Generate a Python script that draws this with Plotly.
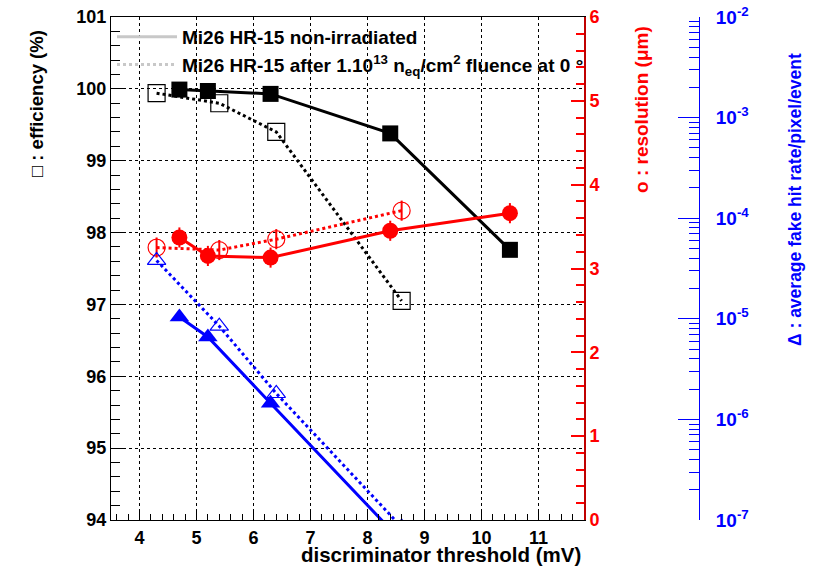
import plotly.graph_objects as go

# ---------------- data ----------------
thr_nonirr = [4.7, 5.2, 6.3, 8.4, 10.5]
eff_nonirr = [99.99, 99.97, 99.93, 99.38, 97.76]
res_nonirr = [3.37, 3.15, 3.13, 3.45, 3.66]
res_nonirr_err = [0.12, 0.12, 0.12, 0.12, 0.12]
thr_fake_nonirr = [4.7, 5.2, 6.3, 8.4]
fake_nonirr = [1.04e-5, 6.6e-6, 1.45e-6, 8.1e-8]

thr_irr = [4.3, 5.4, 6.4, 8.6]
eff_irr = [99.94, 99.80, 99.40, 97.05]
res_irr = [3.25, 3.22, 3.35, 3.69]
res_irr_err = [0.12, 0.12, 0.12, 0.12]
fake_irr = [3.8e-5, 8.45e-6, 1.81e-6, 8.5e-8]

legend_labels = ["Mi26 HR-15 non-irradiated",
                 "Mi26 HR-15 after 1.10<sup>13</sup> n<sub>eq</sub>/cm<sup>2</sup> fluence at 0 \u00b0"]

x_range = [3.5, 11.8]
eff_range = [94, 101]
res_range = [0, 6]
fake_decades = [-7, -6, -5, -4, -3, -2]

FONT = "Liberation Sans"
W, H = 814, 566
ML, MR, MT, MB = 111, 0, 17, 46
PW = W - ML - MR
PH = H - MT - MB

def px(xp):
    return (xp - ML) / PW

def py(yp):
    return (H - MB - yp) / PH

fig = go.Figure()

# legend entries (grey samples)
fig.add_trace(go.Scatter(x=[None], y=[None], mode="lines", name=legend_labels[0],
                         line=dict(color="#c8c8c8", width=3), showlegend=True))
fig.add_trace(go.Scatter(x=[None], y=[None], mode="lines", name=legend_labels[1],
                         line=dict(color="#c8c8c8", width=3, dash="dot"), showlegend=True))

# efficiency
fig.add_trace(go.Scatter(x=thr_nonirr, y=eff_nonirr, mode="lines+markers", showlegend=False,
                         line=dict(color="black", width=3),
                         marker=dict(symbol="square", size=16, color="black")))
fig.add_trace(go.Scatter(x=thr_irr, y=eff_irr, mode="lines+markers", showlegend=False,
                         line=dict(color="black", width=3, dash="dot"),
                         marker=dict(symbol="square-open", size=17, color="black",
                                     line=dict(width=1.2))))

# resolution
fig.add_trace(go.Scatter(x=thr_nonirr, y=res_nonirr, mode="lines+markers", showlegend=False,
                         yaxis="y2",
                         line=dict(color="red", width=3),
                         error_y=dict(type="data", array=res_nonirr_err, color="red",
                                      thickness=2, width=0),
                         marker=dict(symbol="circle", size=16, color="red")))
fig.add_trace(go.Scatter(x=thr_irr, y=res_irr, mode="lines+markers", showlegend=False,
                         yaxis="y2",
                         line=dict(color="red", width=3, dash="dot"),
                         error_y=dict(type="data", array=res_irr_err, color="red",
                                      thickness=2, width=0),
                         marker=dict(symbol="circle-open", size=17, color="red",
                                     line=dict(width=1.2))))

# fake hit rate
fig.add_trace(go.Scatter(x=thr_fake_nonirr, y=fake_nonirr, mode="lines+markers", showlegend=False,
                         yaxis="y3",
                         line=dict(color="blue", width=3),
                         marker=dict(symbol="triangle-up", size=17, color="blue")))
fig.add_trace(go.Scatter(x=thr_irr, y=fake_irr, mode="lines+markers", showlegend=False,
                         yaxis="y3",
                         line=dict(color="blue", width=3, dash="dot"),
                         marker=dict(symbol="triangle-up-open", size=16, color="blue",
                                     line=dict(width=1.2))))

tickfont_black = dict(family=FONT, size=18, color="black", weight="bold")

fake_minor = [m * 10.0 ** d for d in fake_decades[:-1] for m in range(2, 10)]

fig.update_layout(
    width=W, height=H,
    margin=dict(l=ML, r=MR, t=MT, b=MB),
    paper_bgcolor="white", plot_bgcolor="white",
    font=dict(family=FONT, color="black"),
    xaxis=dict(domain=[0, px(584)], range=x_range, dtick=1, tick0=0,
               ticks="inside", ticklen=11, tickcolor="black", tickwidth=1,
               minor=dict(dtick=0.2, ticks="inside", ticklen=6, tickcolor="black", showgrid=False),
               showline=True, linecolor="black", linewidth=1, mirror=True,
               showgrid=True, gridcolor="black", griddash="dot", gridwidth=1,
               zeroline=False, tickfont=tickfont_black, ticklabelstandoff=1),
    yaxis=dict(range=eff_range, dtick=1, tick0=0,
               ticks="inside", ticklen=12, tickcolor="black",
               minor=dict(dtick=0.2, ticks="inside", ticklen=9, tickcolor="black", showgrid=False),
               showline=True, linecolor="black", linewidth=1,
               showgrid=True, gridcolor="black", griddash="dot", gridwidth=1,
               zeroline=False, tickfont=tickfont_black),
    yaxis2=dict(range=res_range, dtick=1, tick0=0, overlaying="y", side="right", anchor="x",
                ticks="inside", ticklen=13, tickcolor="red", tickwidth=1.5,
                minor=dict(dtick=0.2, ticks="inside", ticklen=8, tickcolor="red", showgrid=False),
                showline=True, linecolor="#c00000", linewidth=2,
                showgrid=False, zeroline=False,
                tickfont=dict(family=FONT, size=18, color="red", weight="bold")),
    yaxis3=dict(type="log", range=[fake_decades[0], fake_decades[-1]], overlaying="y",
                side="right", anchor="free", position=px(699),
                tickmode="array", tickvals=[10.0 ** d for d in fake_decades],
                ticktext=["10<sup>%d</sup>" % d for d in fake_decades],
                ticks="inside", ticklen=21, tickcolor="blue",
                minor=dict(tickmode="array", tickvals=fake_minor, ticks="inside",
                           ticklen=10, tickcolor="blue", showgrid=False),
                showline=True, linecolor="blue", linewidth=1,
                showgrid=False, zeroline=False, ticklabelstandoff=12,
                tickfont=dict(family=FONT, size=19, color="blue", weight="bold")),
    legend=dict(x=px(112), y=py(18), xanchor="left", yanchor="top",
                bgcolor="rgba(0,0,0,0)", borderwidth=0, itemwidth=60,
                tracegroupgap=0,
                font=dict(family=FONT, size=19, color="black", weight="bold")),
    annotations=[
        dict(text="\u25a1 : efficiency (%)", xref="paper", yref="paper",
             x=px(36), y=py(104), xanchor="center", yanchor="middle",
             textangle=-90, showarrow=False,
             font=dict(family=FONT, size=18.5, color="black", weight="bold")),
        dict(text="o : resolution (\u03bcm)", xref="paper", yref="paper",
             x=px(641), y=py(110), xanchor="center", yanchor="middle",
             textangle=-90, showarrow=False,
             font=dict(family=FONT, size=19, color="red", weight="bold")),
        dict(text="\u0394 : average fake hit rate/pixel/event", xref="paper", yref="paper",
             x=px(795), y=py(200), xanchor="center", yanchor="middle",
             textangle=-90, showarrow=False,
             font=dict(family=FONT, size=17.5, color="blue", weight="bold")),
        dict(text="discriminator threshold (mV)", xref="paper", yref="paper",
             x=px(583), y=py(554), xanchor="right", yanchor="middle", showarrow=False,
             font=dict(family=FONT, size=20.5, color="black", weight="bold")),
    ],
)

fig.write_html("out.html")
